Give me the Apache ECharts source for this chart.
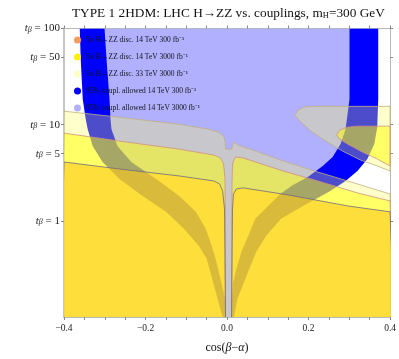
<!DOCTYPE html>
<html>
<head>
<meta charset="utf-8">
<script src="https://cdn.jsdelivr.net/npm/echarts@6/dist/echarts.min.js"></script>
<style>
  html, body { margin: 0; padding: 0; background: #fff; }
  #chart { width: 399px; height: 359px; }
</style>
</head>
<body>
<div id="chart"></div>
<script>
// axis ticks
const xLabels = [-0.4, -0.2, 0, 0.2, 0.4];
const tbTicks = [1, 5, 10, 50, 100];

// legend names (drawing order differs)
const names = [
  "5σ H→ZZ disc. 14 TeV 300 fb⁻¹",
  "5σ H→ZZ disc. 14 TeV 3000 fb⁻¹",
  "5σ H→ZZ disc. 33 TeV 3000 fb⁻¹",
  "95% coupl. allowed 14 TeV 300 fb⁻¹",
  "95% coupl. allowed 14 TeV 3000 fb⁻¹",
];

// region outlines, points are [cos(beta-alpha), tan beta]
const disc33Edge = [
  [-0.4, 13.8], [-0.264, 11.96], [-0.118, 10.1], [-0.045, 8.98], [-0.0207, 8.36],
  [-0.0085, 7.6], [-0.0045, 6.6], [-0.0036, 5.57], [0.0122, 5.57], [0.0134, 6.2],
  [0.0165, 6.58], [0.028, 6.1], [0.0766, 5.19], [0.1375, 4.19], [0.2226, 3.22],
  [0.2956, 2.6], [0.4, 1.9], [0.41, 0.08], [-0.41, 0.08],
];
const disc33Tongue = [
  [0.1667, 12.5], [0.174, 14.1], [0.1886, 15.2], [0.2105, 15.5], [0.4, 15.5],
  [0.4, 3.3], [0.3686, 3.72], [0.3273, 4.29], [0.2835, 5.31], [0.247, 6.59],
  [0.2056, 8.57], [0.1788, 10.9],
];
const disc14hiEdge = [
  [-0.4, 8.17], [-0.264, 6.75], [-0.118, 5.57], [-0.0328, 4.83], [-0.0158, 4.5],
  [-0.0085, 3.9], [-0.0049, 2.72], [-0.0036, 0.08], [0.0109, 0.08], [0.0122, 2.42],
  [0.0134, 3.9], [0.0207, 4.61], [0.0401, 4.5], [0.1375, 3.3], [0.2226, 2.6],
  [0.32, 1.95], [0.4, 1.61], [0.41, 0.08], [-0.41, 0.08],
];
const disc14hiLoop = [
  [0.2689, 7.79], [0.2762, 8.77], [0.2956, 9.42], [0.32, 9.65], [0.4, 9.65],
  [0.4, 3.72], [0.3686, 4.39], [0.3321, 5.19], [0.2956, 6.28], [0.2762, 7.08],
];
const disc14loEdge = [
  [-0.4, 4.09], [-0.264, 3.46], [-0.118, 2.93], [-0.0328, 2.6], [-0.0182, 2.42],
  [-0.0109, 2.05], [-0.0061, 1.33], [-0.0036, 0.08], [0.0109, 0.08], [0.0134, 1.33],
  [0.0158, 1.9], [0.0231, 2.15], [0.0401, 2.2], [0.1496, 1.86], [0.2956, 1.43],
  [0.4, 1.24], [0.41, 0.08], [-0.41, 0.08],
];
const allowed300Left = [
  [-0.3613, 100], [-0.3589, 47.7], [-0.354, 18.4], [-0.3467, 11.4], [-0.3418, 8.98],
  [-0.3297, 5.99], [-0.3054, 4.09], [-0.264, 2.72], [-0.208, 1.82], [-0.1496, 1.24],
  [-0.1058, 0.826], [-0.0693, 0.551], [-0.0499, 0.404], [-0.0231, 0.155], [-0.0109, 0.1],
  [-0.004, 0.1], [-0.0045, 0.155], [-0.028, 0.404], [-0.0377, 0.551], [-0.0523, 0.826],
  [-0.0766, 1.24], [-0.118, 1.82], [-0.174, 2.72], [-0.2348, 4.09], [-0.2689, 5.99],
  [-0.2835, 8.98], [-0.2859, 11.4], [-0.2883, 18.4], [-0.2956, 47.7], [-0.3005, 100],
];
const allowed300Right = [
  [0.371, 100], [0.371, 18.4], [0.3686, 9.42], [0.3613, 6.28], [0.3443, 4.39],
  [0.32, 3.3], [0.2908, 2.6], [0.2543, 2.05], [0.2178, 1.69], [0.1861, 1.43],
  [0.1326, 1.05], [0.0961, 0.7], [0.0718, 0.477], [0.0547, 0.318], [0.0401, 0.222],
  [0.0255, 0.155], [0.017, 0.1],
  [0.0115, 0.1], [0.0122, 0.155], [0.0145, 0.222], [0.0231, 0.318], [0.0353, 0.477],
  [0.0523, 0.7], [0.0693, 1.05], [0.1058, 1.5], [0.1302, 1.9], [0.1618, 2.36],
  [0.1983, 2.86], [0.2348, 3.72], [0.2591, 4.61], [0.2786, 6.28], [0.2908, 8.98],
  [0.3005, 18.4], [0.3005, 100],
];
const allowed3000Area = [
  [-0.331, 100], [-0.327, 47.7], [-0.321, 18.4], [-0.316, 11.4], [-0.313, 8.98],
  [-0.299, 5.99], [-0.27, 4.09], [-0.242, 3.38], [-0.118, 2.93], [-0.0328, 2.6],
  [-0.0182, 2.42], [-0.0109, 2.05], [-0.0061, 1.33], [-0.0036, 0.08], [0.0109, 0.08],
  [0.0134, 1.33], [0.0158, 1.9], [0.0231, 2.15], [0.0401, 2.2], [0.1496, 1.86],
  [0.175, 1.79], [0.218, 2.36], [0.25, 2.86], [0.282, 3.72], [0.303, 4.61],
  [0.32, 6.28], [0.329, 9.42], [0.336, 18.4], [0.336, 100],
];

const serif = "Liberation Serif";
const lg = (t) => Math.log10(t);

function regionSeries(name, legendColor, polys, fill, stroke) {
  return {
    name,
    type: "custom",
    coordinateSystem: "cartesian2d",
    clip: true,
    silent: true,
    itemStyle: { color: legendColor },
    data: polys.map((poly, i) => [poly[0][0], lg(poly[0][1]), i]),
    renderItem: (params, api) => ({
      type: "polygon",
      shape: { points: polys[params.dataIndex].map(([c, t]) => api.coord([c, lg(t)])) },
      style: { fill, stroke: stroke || null, lineWidth: stroke ? 0.8 : 0 },
    }),
  };
}

const chart = echarts.init(document.getElementById("chart"), null, { renderer: "canvas" });

const frameAxis = {
  axisLine: { show: true, onZero: false, lineStyle: { color: "#b8b8b8", width: 1 } },
  axisTick: { show: true, inside: false, length: 3, lineStyle: { color: "#888" } },
  splitLine: { show: false },
};

chart.setOption({
  animation: false,
  title: {
    text: "{a|TYPE 1 2HDM: LHC H→ZZ vs. couplings, m}{s|H}{a|=300 GeV}",
    left: 72,
    top: 7,
    padding: 0,
    textStyle: {
      rich: {
        a: { fontFamily: serif, fontSize: 13.3, fontWeight: "normal", color: "#111" },
        s: { fontFamily: serif, fontSize: 8.5, fontWeight: "normal", color: "#111", verticalAlign: "bottom", lineHeight: 9 },
      },
    },
  },
  legend: {
    orient: "vertical",
    left: 69,
    top: 31,
    icon: "circle",
    itemWidth: 7,
    itemHeight: 7,
    itemGap: 9,
    selectedMode: false,
    data: names,
    textStyle: { fontFamily: serif, fontSize: 7.5, color: "#111" },
  },
  grid: { left: 64, right: 6, top: 28.5, bottom: 40.5 },
  xAxis: [
    {
      ...frameAxis,
      type: "value",
      min: -0.4,
      max: 0.4,
      interval: 0.05,
      axisLabel: {
        customValues: xLabels,
        formatter: (v) => v.toFixed(1).replace("-", "−"),
        fontFamily: serif,
        fontSize: 9.5,
        color: "#222",
        margin: 6,
      },
      name: "{n|cos(}{i|β}{n|−}{i|α}{n|)}",
      nameLocation: "middle",
      nameGap: 25,
      nameTextStyle: {
        rich: {
          n: { fontFamily: serif, fontSize: 12, color: "#111" },
          i: { fontFamily: serif, fontSize: 12, fontStyle: "italic", color: "#111" },
        },
      },
    },
    {
      ...frameAxis,
      type: "value",
      position: "top",
      min: -0.4,
      max: 0.4,
      interval: 0.05,
      axisLabel: { show: false },
    },
  ],
  yAxis: [
    {
      ...frameAxis,
      type: "value",
      min: -1,
      max: 2,
      axisLine: { show: true, onZero: false, lineStyle: { color: "#c4c4c4", width: 2 } },
      axisTick: { show: true, length: 3, customValues: tbTicks.map(lg), lineStyle: { color: "#888" } },
      axisLabel: {
        customValues: tbTicks.map(lg),
        margin: 4,
        formatter: (v) => `{t|t}{b|β}{n| = ${Math.round(Math.pow(10, v))}}`,
        rich: {
          t: { fontFamily: serif, fontStyle: "italic", fontSize: 11, color: "#222" },
          b: { fontFamily: serif, fontStyle: "italic", fontSize: 8, color: "#222", verticalAlign: "bottom", lineHeight: 9 },
          n: { fontFamily: serif, fontSize: 11, color: "#222" },
        },
      },
    },
    {
      ...frameAxis,
      type: "value",
      position: "right",
      min: -1,
      max: 2,
      axisTick: { show: true, length: 3, customValues: tbTicks.map(lg), lineStyle: { color: "#888" } },
      axisLabel: { show: false },
    },
  ],
  series: [
    regionSeries(names[4], "#b0b0ff", [allowed3000Area], "#b0b0ff"),
    regionSeries(names[3], "#0000ff", [allowed300Left, allowed300Right], "#0000ff"),
    regionSeries(names[2], "#ffffc4", [disc33Edge, disc33Tongue], "rgba(255,255,85,0.3)", "#c4b07c"),
    regionSeries(names[1], "#fff000", [disc14hiEdge, disc14hiLoop], "rgba(255,255,0,0.5)", "#cf8f86"),
    regionSeries(names[0], "#f59c5a", [disc14loEdge], "rgba(252,200,30,0.6)", "#6f6a80"),
  ],
});
</script>
</body>
</html>
